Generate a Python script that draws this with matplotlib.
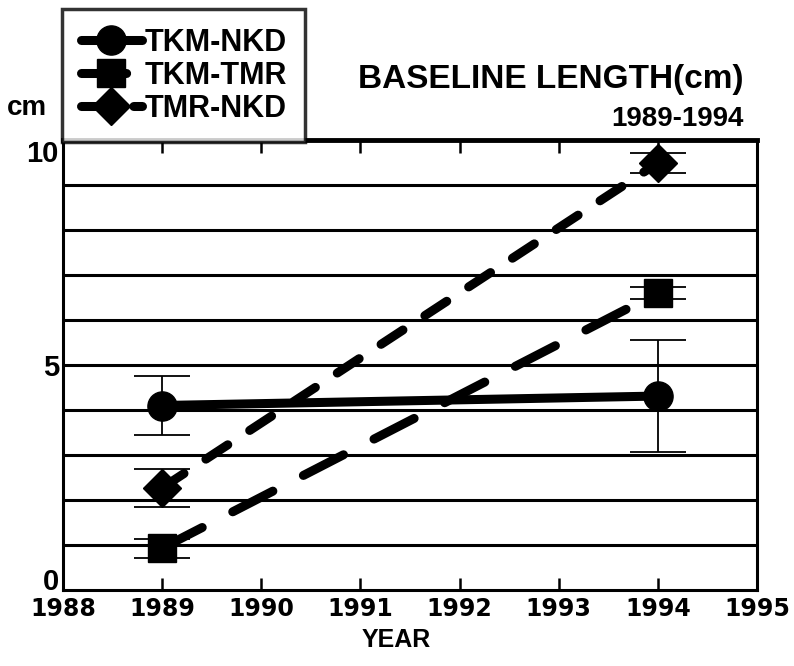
import matplotlib.pyplot as plt
import numpy as np

plt.rcParams['font.family'] = ['Liberation Sans', 'DejaVu Sans']

years = [1989, 1994]
series = ['TKM-NKD', 'TKM-TMR', 'TMR-NKD']
tkm_nkd = [4.10, 4.31]
tkm_nkd_err = [0.66, 1.25]
tkm_tmr = [0.93, 6.60]
tkm_tmr_err = [0.21, 0.13]
tmr_nkd = [2.27, 9.49]
tmr_nkd_err = [0.43, 0.22]

fig = plt.figure(figsize=(7.94, 6.66), dpi=100)
ax = fig.add_axes([0.0793, 0.1141, 0.874, 0.6757])

# gridlines
for v in range(1, 10):
    ax.axhline(v, color='black', lw=2.2, zorder=1)

styles = [
    (tkm_nkd, tkm_nkd_err, 'o', 21, None),
    (tkm_tmr, tkm_tmr_err, 's', 20, (5, 3.8)),
    (tmr_nkd, tmr_nkd_err, 'D', 19, (2.9, 2.9)),
]
handles = []
for (vals, err, mk, ms, dash), name in zip(styles, series):
    ax.errorbar(years, vals, yerr=err, fmt='none', ecolor='black',
                elinewidth=1.3, capsize=20, capthick=1.3, zorder=2)
    ln, = ax.plot(years, vals, color='black', lw=6.5, marker=mk,
                  markersize=ms, label=name, zorder=3,
                  solid_capstyle='round', dash_capstyle='round')
    if dash is not None:
        ln.set_dashes(dash)
    handles.append(ln)

ax.set_xlim(1988, 1995)
ax.set_ylim(0, 10)
ax.set_xticks(range(1988, 1996))
ax.set_xticklabels([str(y) for y in range(1988, 1996)],
                   fontsize=17, fontweight='heavy', family='DejaVu Sans')
ax.set_yticks([0, 5, 10])
ax.set_yticklabels(['0', '5', '10'], fontsize=21, fontweight='bold')
ylabels = ax.get_yticklabels()
ylabels[0].set_va('baseline')
ylabels[2].set_va('top')
ax.tick_params(axis='x', direction='in', length=9, width=1.8, top=True,
               pad=5)
ax.tick_params(axis='y', length=0, pad=3)
for s in ax.spines.values():
    s.set_linewidth(2.2)
ax.spines['top'].set_linewidth(3.5)

fig.text(0.499, 0.039, 'YEAR', fontsize=18, fontweight='bold', ha='center', va='center')
fig.text(0.034, 0.838, 'cm', fontsize=20, fontweight='bold', ha='center', va='center')
fig.text(0.936, 0.881, 'BASELINE LENGTH(cm)', fontsize=24, fontweight='bold',
         ha='right', va='center')
fig.text(0.936, 0.822, '1989-1994', fontsize=20, fontweight='bold',
         ha='right', va='center')

leg = ax.legend(handles=handles, loc='lower left', bbox_to_anchor=(-0.001, 0.995),
                borderaxespad=0, frameon=True, fancybox=False, fontsize=22,
                handlelength=2.0, handletextpad=0.1, labelspacing=0.1,
                borderpad=0.6, markerscale=1.0)
leg.get_frame().set_edgecolor('black')
leg.get_frame().set_linewidth(2.5)
for t in leg.get_texts():
    t.set_fontweight('bold')

fig.savefig('out.png', dpi=100)
